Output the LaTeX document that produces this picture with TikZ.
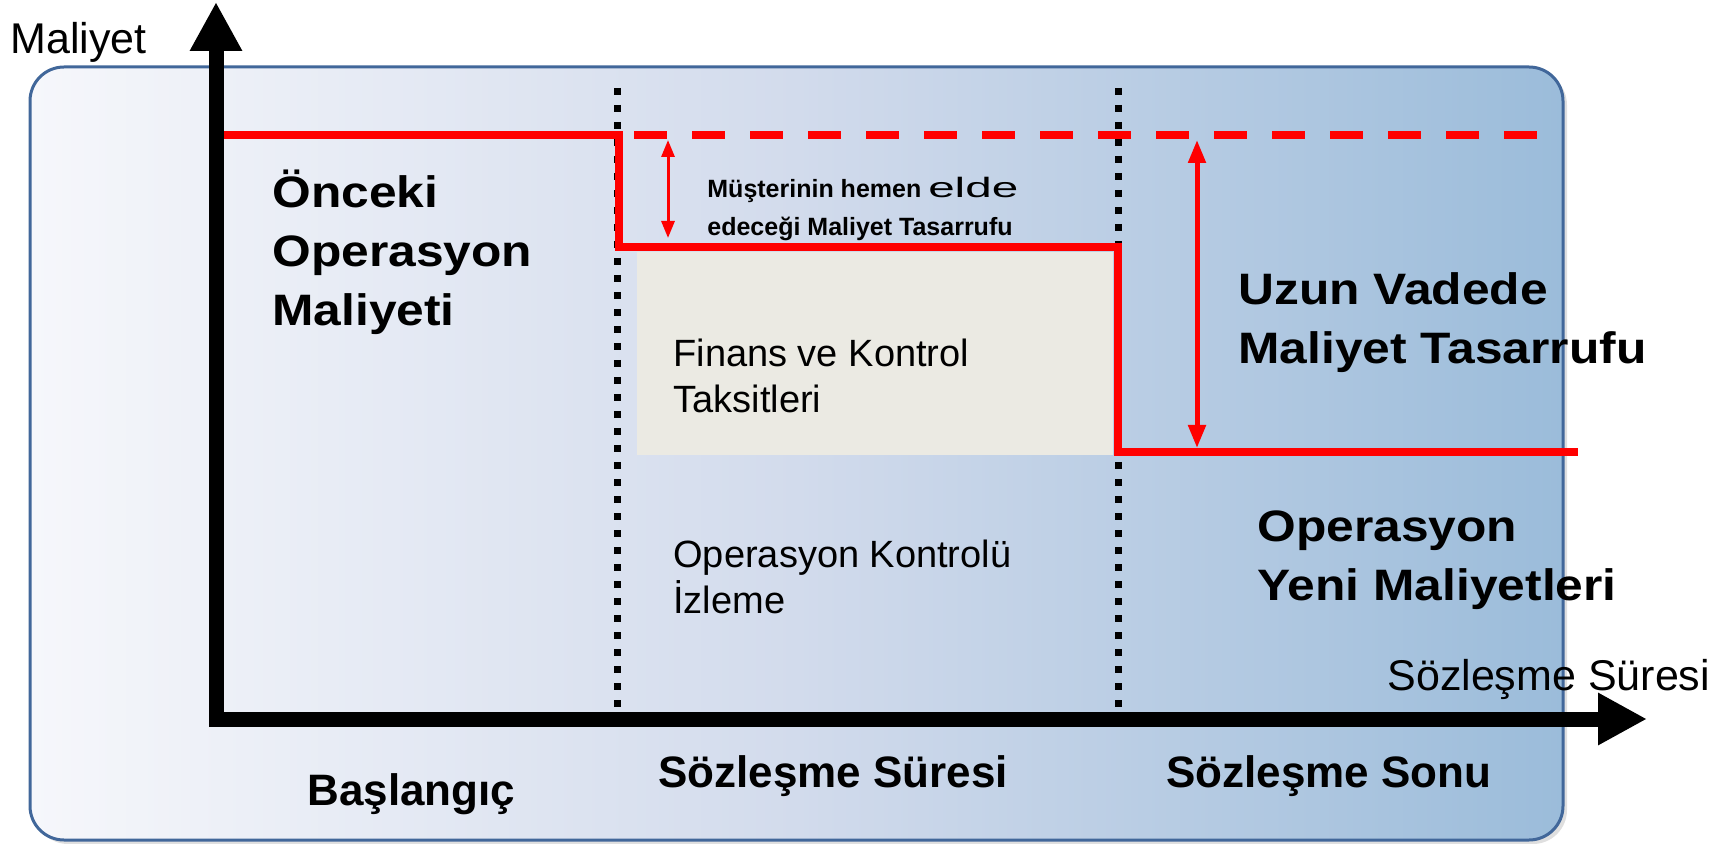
\documentclass[tikz,border=0pt]{standalone}
\usepackage{fontspec}
\setmainfont{Liberation Sans}
\newfontfamily\headfont[FakeStretch=1.13]{Liberation Sans}
\usepackage{graphicx}
\usetikzlibrary{arrows.meta,positioning,shadows}
\definecolor{csred}{HTML}{FF0000}
\definecolor{csframe}{HTML}{41679A}
\definecolor{csleft}{HTML}{F6F7FB}
\definecolor{csmid}{HTML}{D2DBEC}
\definecolor{csright}{HTML}{9BBCDA}
\definecolor{csbeige}{HTML}{EBEAE3}
\tikzset{
  panel/.style={draw=csframe,line width=1.5pt,rounded corners=17pt,
                left color=csleft,right color=csright,middle color=csmid,
                drop shadow={shadow xshift=2pt,shadow yshift=-2pt,opacity=.25}},
  axisline/.style={line width=7.5pt,
                   {Triangle[length=24.5pt,width=24.5pt]}-{Triangle[length=24.5pt,width=24.5pt]}},
  divider/.style={line width=3.5pt,dash pattern=on 3.5pt off 5pt},
  cost/.style={csred,line width=4pt},
  costdash/.style={csred,line width=4pt,dash pattern=on 16.5pt off 12.5pt},
  gap/.style={csred,line width=1.5pt,{Triangle[length=8.5pt,width=6.5pt]}-{Triangle[length=8.5pt,width=6.5pt]}},
  biggap/.style={csred,line width=2.5pt,{Triangle[length=11.5pt,width=8.5pt]}-{Triangle[length=11.5pt,width=8.5pt]}},
  head/.style={font=\headfont\bfseries\fontsize{22}{29.5}\selectfont,align=left,inner sep=0pt,anchor=base west},
  phase/.style={font=\bfseries\fontsize{22}{26}\selectfont,inner sep=0pt,anchor=base west},
  body/.style={font=\fontsize{19}{23}\selectfont,align=left,inner sep=0pt,anchor=base west},
  note/.style={font=\bfseries\fontsize{12.5}{19}\selectfont,align=left,inner sep=0pt,anchor=base west},
  axislab/.style={font=\fontsize{21.5}{26}\selectfont,inner sep=0pt,anchor=base west},
}
\begin{document}
\begin{tikzpicture}[x=0.5pt,y=-0.5pt]
  \useasboundingbox (0,0) rectangle (1729,844);
  % background panel and finance band
  \path[panel] (30,67) rectangle (1563,840);
  \fill[csbeige] (637,252) rectangle (1113,455);

  % phase dividers
  \draw[divider] (617,88) -- (617,708);
  \draw[divider] (1118,88) -- (1118,708);

  % cost levels
  \coordinate (oldcost) at (221,135);
  \coordinate (cut) at (619,135);
  \coordinate (midcost) at (1118,247);
  \coordinate (newcost) at (1578,452);
  \draw[cost] (oldcost) -- (cut) |- (midcost) |- (newcost);
  \draw[costdash] (634,135) -- (1544,135);

  % savings
  \coordinate (s1top) at (668,140);
  \coordinate (s1bot) at (668,238);
  \draw[gap] (s1top) -- (s1bot);
  \coordinate (s2top) at (1197,140);
  \coordinate (s2bot) at (1197,448);
  \draw[biggap] (s2top) -- (s2bot);

  % axes
  \coordinate (ytip) at (216,2);
  \coordinate (xtip) at (1647,719);
  \draw[axisline] (ytip) |- (xtip);
  \node[axislab] (ylab) at (10,54) {Maliyet};
  \node[axislab] (xlab) at (1387,690) {Sözleşme Süresi};

  % labels (anchored on the last line)
  \node[head] (prev) at (272,326) {Önceki\\Operasyon\\Maliyeti};
  \node[note] (quick) at (707,236)
    {Müşterinin hemen {\mdseries\fontsize{14}{14}\selectfont\scalebox{1.7}[1]{elde}}\\edeceği Maliyet Tasarrufu};
  \node[body] (fin) at (673,413) {Finans ve Kontrol\\Taksitleri};
  \node[body] (mon) at (673,613) {Operasyon Kontrolü\\İzleme};
  \node[head] (long) at (1238,364) {Uzun Vadede\\Maliyet Tasarrufu};
  \node[head] (new) at (1257,600) {Operasyon\\Yeni Maliyetleri};

  % phases
  \node[phase] (start) at (307,805) {Başlangıç};
  \node[phase] (term) at (658,787) {Sözleşme Süresi};
  \node[phase] (end) at (1166,787) {Sözleşme Sonu};
\end{tikzpicture}
\end{document}
